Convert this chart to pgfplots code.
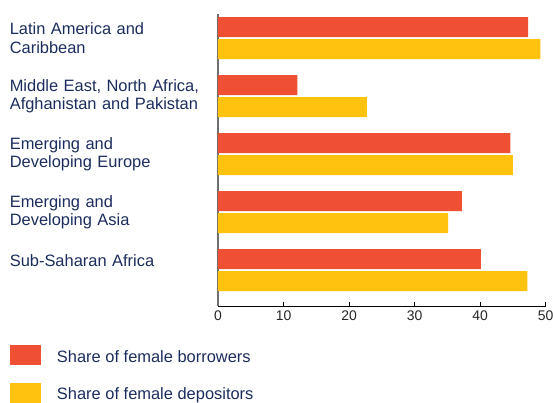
\documentclass[border=0pt]{standalone}
\usepackage{fontspec}
\setmainfont{Liberation Sans}
\usepackage{pgfplots}
\pgfplotsset{compat=1.18}
\definecolor{borrow}{HTML}{EF5033}
\definecolor{depos}{HTML}{FFC20E}
\definecolor{navy}{HTML}{1B2D5E}
\definecolor{axgray}{HTML}{6D6E70}
\begin{document}
\begin{tikzpicture}
\begin{axis}[
  scale only axis, width=327.7bp, height=292bp,
  xmin=0, xmax=50, ymin=-0.414, ymax=4.62, y dir=reverse,
  xbar, bar width=20bp,
  axis x line*=bottom, axis y line*=left,
  x axis line style={black, line width=0.8bp, -},
  y axis line style={axgray, line width=1.5bp, -},
  xtick={0,10,20,30,40,50},
  tick align=inside, major tick length=4bp,
  xtick style={black, line width=0.6bp},
  ytick={0,1,2,3,4},
  ytick style={draw=none},
  yticklabels={{Latin America and\\Caribbean},{Middle East, North Africa,\\Afghanistan and Pakistan},{Emerging and\\Developing Europe},{Emerging and\\Developing Asia},{Sub-Saharan Africa\\\mbox{}}},
  yticklabel style={font=\fontsize{16.5}{18.5}\selectfont, text=navy, text width=208bp, align=left, inner sep=0pt, anchor=east},
  xticklabel style={font=\fontsize{14}{16}\selectfont, text=black!85, inner sep=0pt, anchor=north, yshift=-5bp},
  /pgf/number format/assume math mode=true,
  legend style={at={(0,0)}, anchor=north west, xshift=-208bp, yshift=-39bp, draw=none, fill=none, inner sep=0pt, outer sep=0pt, row sep=17.5bp, font=\fontsize{16.5}{18.5}\selectfont, text=navy, nodes={inner sep=0pt, outer sep=0pt}, /tikz/every odd column/.append style={column sep=16bp}},
  legend cell align=left,
  legend image code/.code={\fill (0bp,-8bp) rectangle (31bp,12bp);},
  clip=false,
]
\addplot[fill=borrow, draw=none, bar shift=11bp] coordinates {(47.3,0) (12.1,1) (44.6,2) (37.2,3) (40.1,4)};
\addplot[fill=depos, draw=none, bar shift=-11bp] coordinates {(49.2,0) (22.7,1) (45.0,2) (35.1,3) (47.2,4)};
\legend{Share of female borrowers, Share of female depositors}
\coordinate (O) at (rel axis cs:0,0);
\end{axis}
\pgfresetboundingbox
\path[use as bounding box] ([xshift=-218bp,yshift=-97bp]O) rectangle ([xshift=335bp,yshift=306bp]O);
\end{tikzpicture}
\end{document}
